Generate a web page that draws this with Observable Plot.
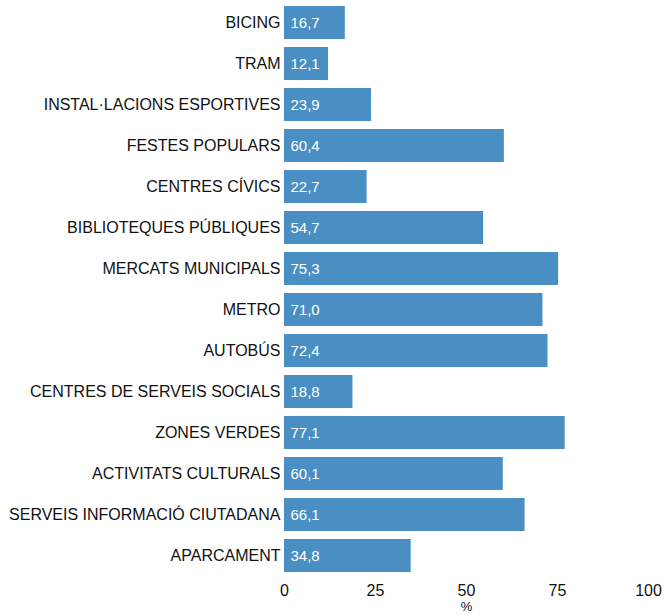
<!DOCTYPE html>
<html>
<head>
<meta charset="utf-8">
<script src="https://cdn.jsdelivr.net/npm/d3@7"></script>
<script src="https://cdn.jsdelivr.net/npm/@observablehq/plot@0.6"></script>
<style>
body { margin: 0; background: #fff; }
#chart svg { font-family: "Liberation Sans", Arial, sans-serif; }
</style>
</head>
<body>
<div id="chart"></div>
<script>
const categories = [
  "BICING", "TRAM", "INSTAL·LACIONS ESPORTIVES", "FESTES POPULARS", "CENTRES CÍVICS",
  "BIBLIOTEQUES PÚBLIQUES", "MERCATS MUNICIPALS", "METRO", "AUTOBÚS",
  "CENTRES DE SERVEIS SOCIALS", "ZONES VERDES", "ACTIVITATS CULTURALS",
  "SERVEIS INFORMACIÓ CIUTADANA", "APARCAMENT"
];
const values = [16.7, 12.1, 23.9, 60.4, 22.7, 54.7, 75.3, 71.0, 72.4, 18.8, 77.1, 60.1, 66.1, 34.8];
const xTicks = [0, 25, 50, 75, 100];
const xLabel = "%";

const data = categories.map((c, i) => ({cat: c, value: values[i]}));
const fmt = v => v.toFixed(1).replace(".", ",");

const chart = Plot.plot({
  width: 664,
  height: 615,
  marginLeft: 284,
  marginRight: 16,
  marginTop: 0,
  marginBottom: 37,
  style: {fontFamily: '"Liberation Sans", Arial, sans-serif', fontSize: "16px", color: "#111", background: "#fff", overflow: "visible"},
  x: {domain: [0, 100], ticks: xTicks, tickSize: 0, tickPadding: 6, label: null},
  y: {domain: categories, paddingInner: 0.2, paddingOuter: 0.12, tickSize: 0, tickPadding: 4, label: null},
  marks: [
    Plot.barX(data, {x: "value", y: "cat", fill: "#4a8fc3"}),
    Plot.text(data, {x: 0, y: "cat", text: d => fmt(d.value), textAnchor: "start", dx: 6, fill: "#fff", fontSize: 15}),
    Plot.text([xLabel], {frameAnchor: "bottom", dy: 32, text: d => d, fontSize: 13, fill: "#111"})
  ]
});
document.getElementById("chart").appendChild(chart);
</script>
</body>
</html>
